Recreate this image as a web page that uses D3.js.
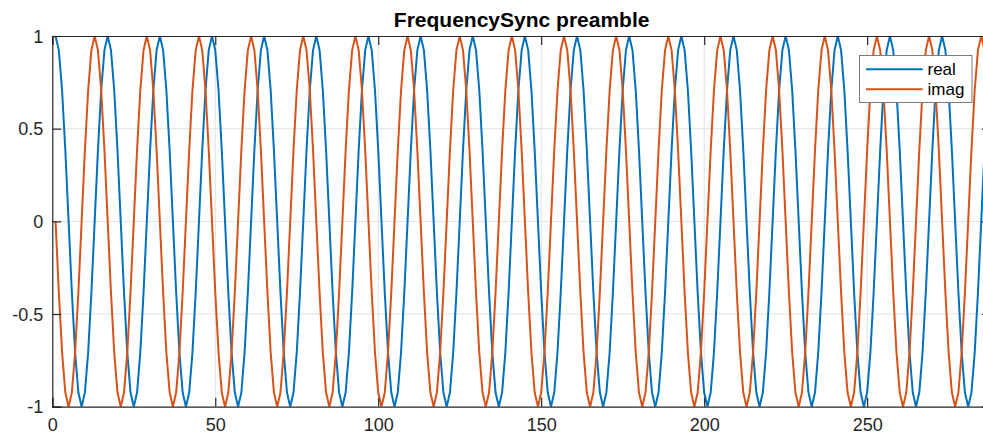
<!DOCTYPE html>
<html><head><meta charset="utf-8">
<script src="https://cdn.jsdelivr.net/npm/d3@7"></script>
<style>body{margin:0;background:#fff}svg{display:block}text{font-family:"Liberation Sans",Arial,Helvetica,sans-serif}</style>
</head><body>
<script>
// Sample values (real and imaginary parts of the preamble), index 1..288
const realPart = [
1,.9239,.7071,.3827,0,-.3827,-.7071,-.9239,-1,-.9239,-.7071,-.3827,0,.3827,.7071,.9239,
1,.9239,.7071,.3827,0,-.3827,-.7071,-.9239,-1,-.9239,-.7071,-.3827,0,.3827,.7071,.9239,
1,.9239,.7071,.3827,0,-.3827,-.7071,-.9239,-1,-.9239,-.7071,-.3827,0,.3827,.7071,.9239,
1,.9239,.7071,.3827,0,-.3827,-.7071,-.9239,-1,-.9239,-.7071,-.3827,0,.3827,.7071,.9239,
1,.9239,.7071,.3827,0,-.3827,-.7071,-.9239,-1,-.9239,-.7071,-.3827,0,.3827,.7071,.9239,
1,.9239,.7071,.3827,0,-.3827,-.7071,-.9239,-1,-.9239,-.7071,-.3827,0,.3827,.7071,.9239,
1,.9239,.7071,.3827,0,-.3827,-.7071,-.9239,-1,-.9239,-.7071,-.3827,0,.3827,.7071,.9239,
1,.9239,.7071,.3827,0,-.3827,-.7071,-.9239,-1,-.9239,-.7071,-.3827,0,.3827,.7071,.9239,
1,.9239,.7071,.3827,0,-.3827,-.7071,-.9239,-1,-.9239,-.7071,-.3827,0,.3827,.7071,.9239,
1,.9239,.7071,.3827,0,-.3827,-.7071,-.9239,-1,-.9239,-.7071,-.3827,0,.3827,.7071,.9239,
1,.9239,.7071,.3827,0,-.3827,-.7071,-.9239,-1,-.9239,-.7071,-.3827,0,.3827,.7071,.9239,
1,.9239,.7071,.3827,0,-.3827,-.7071,-.9239,-1,-.9239,-.7071,-.3827,0,.3827,.7071,.9239,
1,.9239,.7071,.3827,0,-.3827,-.7071,-.9239,-1,-.9239,-.7071,-.3827,0,.3827,.7071,.9239,
1,.9239,.7071,.3827,0,-.3827,-.7071,-.9239,-1,-.9239,-.7071,-.3827,0,.3827,.7071,.9239,
1,.9239,.7071,.3827,0,-.3827,-.7071,-.9239,-1,-.9239,-.7071,-.3827,0,.3827,.7071,.9239,
1,.9239,.7071,.3827,0,-.3827,-.7071,-.9239,-1,-.9239,-.7071,-.3827,0,.3827,.7071,.9239,
1,.9239,.7071,.3827,0,-.3827,-.7071,-.9239,-1,-.9239,-.7071,-.3827,0,.3827,.7071,.9239,
1,.9239,.7071,.3827,0,-.3827,-.7071,-.9239,-1,-.9239,-.7071,-.3827,0,.3827,.7071,.9239
];
const imagPart = [
0,-.3827,-.7071,-.9239,-1,-.9239,-.7071,-.3827,0,.3827,.7071,.9239,1,.9239,.7071,.3827,
0,-.3827,-.7071,-.9239,-1,-.9239,-.7071,-.3827,0,.3827,.7071,.9239,1,.9239,.7071,.3827,
0,-.3827,-.7071,-.9239,-1,-.9239,-.7071,-.3827,0,.3827,.7071,.9239,1,.9239,.7071,.3827,
0,-.3827,-.7071,-.9239,-1,-.9239,-.7071,-.3827,0,.3827,.7071,.9239,1,.9239,.7071,.3827,
0,-.3827,-.7071,-.9239,-1,-.9239,-.7071,-.3827,0,.3827,.7071,.9239,1,.9239,.7071,.3827,
0,-.3827,-.7071,-.9239,-1,-.9239,-.7071,-.3827,0,.3827,.7071,.9239,1,.9239,.7071,.3827,
0,-.3827,-.7071,-.9239,-1,-.9239,-.7071,-.3827,0,.3827,.7071,.9239,1,.9239,.7071,.3827,
0,-.3827,-.7071,-.9239,-1,-.9239,-.7071,-.3827,0,.3827,.7071,.9239,1,.9239,.7071,.3827,
0,-.3827,-.7071,-.9239,-1,-.9239,-.7071,-.3827,0,.3827,.7071,.9239,1,.9239,.7071,.3827,
0,-.3827,-.7071,-.9239,-1,-.9239,-.7071,-.3827,0,.3827,.7071,.9239,1,.9239,.7071,.3827,
0,-.3827,-.7071,-.9239,-1,-.9239,-.7071,-.3827,0,.3827,.7071,.9239,1,.9239,.7071,.3827,
0,-.3827,-.7071,-.9239,-1,-.9239,-.7071,-.3827,0,.3827,.7071,.9239,1,.9239,.7071,.3827,
0,-.3827,-.7071,-.9239,-1,-.9239,-.7071,-.3827,0,.3827,.7071,.9239,1,.9239,.7071,.3827,
0,-.3827,-.7071,-.9239,-1,-.9239,-.7071,-.3827,0,.3827,.7071,.9239,1,.9239,.7071,.3827,
0,-.3827,-.7071,-.9239,-1,-.9239,-.7071,-.3827,0,.3827,.7071,.9239,1,.9239,.7071,.3827,
0,-.3827,-.7071,-.9239,-1,-.9239,-.7071,-.3827,0,.3827,.7071,.9239,1,.9239,.7071,.3827,
0,-.3827,-.7071,-.9239,-1,-.9239,-.7071,-.3827,0,.3827,.7071,.9239,1,.9239,.7071,.3827,
0,-.3827,-.7071,-.9239,-1,-.9239,-.7071,-.3827,0,.3827,.7071,.9239,1,.9239,.7071,.3827
];
const seriesNames = ["real", "imag"];
const xTicks = [0, 50, 100, 150, 200, 250];
const yTicks = [-1, -0.5, 0, 0.5, 1];
const titleText = "FrequencySync preamble";

const W = 983, H = 434;
const colors = ["#0072BD", "#D95319"];
const axisColor = "#262626";
const L = 52.3, R = 991, T = 36, B = 406.7;

const svg = d3.select("body").append("svg").attr("width", W).attr("height", H);
const x = d3.scaleLinear().domain([0, 288]).range([L, R]);
const y = d3.scaleLinear().domain([-1, 1]).range([B, T]);

svg.append("defs").append("clipPath").attr("id", "clip")
  .append("rect").attr("x", L).attr("y", T).attr("width", R - L).attr("height", B - T);

// grid
const grid = svg.append("g");
grid.selectAll(".gx").data(xTicks.filter(d => d > 0)).join("line")
  .attr("x1", d => x(d)).attr("x2", d => x(d)).attr("y1", T).attr("y2", B)
  .attr("stroke", "#e2e2e2").attr("stroke-width", 1);
grid.selectAll(".gy").data(yTicks.filter(d => d > -1 && d < 1)).join("line")
  .attr("x1", L).attr("x2", R).attr("y1", d => y(d)).attr("y2", d => y(d))
  .attr("stroke", "#e2e2e2").attr("stroke-width", 1);

// lines
const idx = d3.range(realPart.length);
const series = [realPart, imagPart];
const plot = svg.append("g").attr("clip-path", "url(#clip)");
series.forEach((s, k) => {
  const line = d3.line().x(i => x(i + 1)).y(i => y(s[i]));
  plot.append("path").datum(idx)
    .attr("d", line)
    .attr("fill", "none").attr("stroke", colors[k]).attr("stroke-width", 2)
    .attr("stroke-linejoin", "round");
});

// axes
const tl = 9;
const axB = svg.append("g").attr("transform", `translate(0,${B})`)
  .call(d3.axisBottom(x).tickValues(xTicks).tickSize(-tl).tickPadding(12).tickFormat(d3.format("d")));
const axT = svg.append("g").attr("transform", `translate(0,${T})`)
  .call(d3.axisTop(x).tickValues(xTicks).tickSize(-tl).tickFormat(""));
const axL = svg.append("g").attr("transform", `translate(${L},0)`)
  .call(d3.axisLeft(y).tickValues(yTicks).tickSize(-tl).tickPadding(9).tickFormat(d => String(d)));
const axR = svg.append("g").attr("transform", `translate(${R},0)`)
  .call(d3.axisRight(y).tickValues(yTicks).tickSize(-tl).tickFormat(""));
[axB, axT, axL, axR].forEach(g => {
  g.select(".domain").attr("stroke", axisColor).attr("stroke-width", 1.2);
  g.selectAll(".tick line").attr("stroke", axisColor).attr("stroke-width", 1.2);
  g.selectAll("text").attr("fill", axisColor).style("font-size", "18px")
    .style("font-family", '"Liberation Sans",Arial,sans-serif');
});
axB.selectAll("text").attr("dy", "0.71em");
axL.selectAll("text").attr("dy", "0.34em");

// title
svg.append("text").attr("x", (L + R) / 2).attr("y", 27)
  .attr("text-anchor", "middle").attr("font-weight", "bold")
  .style("font-size", "21px").attr("fill", "#000").text(titleText);

// legend
const lg = svg.append("g");
lg.append("rect").attr("x", 859.5).attr("y", 55.5).attr("width", 112.5).attr("height", 47)
  .attr("fill", "#fff").attr("stroke", "#7a7a7a").attr("stroke-width", 1);
seriesNames.forEach((n, k) => {
  const yy = 69.3 + k * 20;
  lg.append("line").attr("x1", 866).attr("x2", 922.7).attr("y1", yy).attr("y2", yy)
    .attr("stroke", colors[k]).attr("stroke-width", 2);
  lg.append("text").attr("x", 927.5).attr("y", yy).attr("dy", "0.35em")
    .style("font-size", "17px").attr("fill", "#000").text(n);
});
</script>
</body></html>
